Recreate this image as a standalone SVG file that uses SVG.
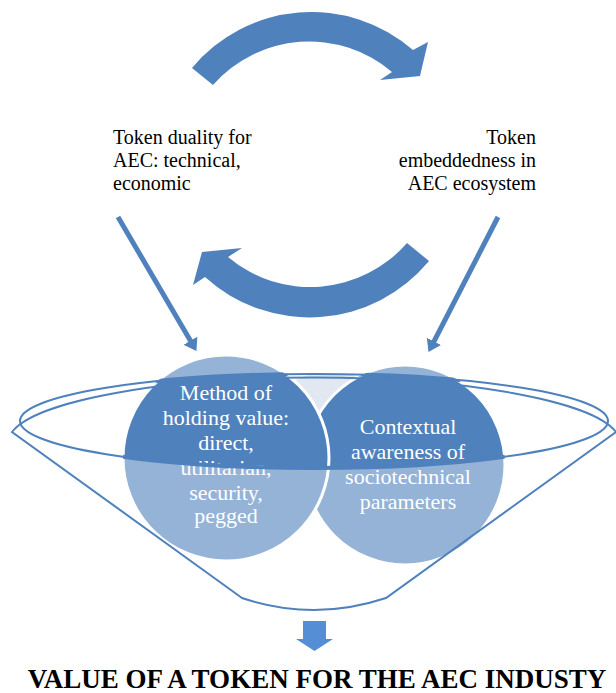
<svg xmlns="http://www.w3.org/2000/svg" width="616" height="693" viewBox="0 0 616 693">
<style>
.lbl{font-family:"Liberation Serif","Times New Roman",serif;font-size:20px;fill:#000}
.ct{font-family:"Liberation Serif","Times New Roman",serif;font-size:22px;fill:#fff;text-anchor:middle}
.title{font-family:"Liberation Serif","Times New Roman",serif;font-size:27px;font-weight:bold;fill:#000;text-anchor:middle}
.blue{fill:#4F81BD}
.ln{stroke:#4F81BD;stroke-width:2;fill:none}
.light{fill:#95B3D7}
.dark{fill:#4F81BD}
</style>
<defs>
<clipPath id="inner"><ellipse cx="314" cy="421" rx="294" ry="47"/></clipPath>
<clipPath id="circs"><circle cx="226" cy="458" r="103"/><circle cx="405" cy="465" r="100"/></clipPath>
<marker id="ah" markerUnits="userSpaceOnUse" viewBox="0 0 12 16" markerWidth="12" markerHeight="16" refX="1" refY="8" orient="auto"><path d="M0,0 L12,8 L0,16 Z" fill="#4F81BD"/></marker>
</defs>
<rect width="616" height="693" fill="#fff"/>

<g id="funnel">
<path d="M242,598 L12,432 A306,65 0 0 1 616,432 L386,598 Q314,622 242,598 Z" fill="#fff"/>
<circle cx="330" cy="450" r="78" fill="#E2E8F1" clip-path="url(#inner)"/>
</g>

<g id="circle-right">
<circle cx="405" cy="465" r="100" class="light"/>
<circle cx="405" cy="465" r="100" class="dark" clip-path="url(#inner)"/>
<circle cx="405" cy="465" r="100" fill="none" stroke="#fff" stroke-width="3"/>
<text class="ct" x="408" y="434">Contextual</text>
<text class="ct" x="408" y="459">awareness of</text>
<text class="ct" x="408" y="484">sociotechnical</text>
<text class="ct" x="408" y="509">parameters</text>
</g>

<g id="circle-left">
<circle cx="226" cy="458" r="103" class="light"/>
<circle cx="226" cy="458" r="103" class="dark" clip-path="url(#inner)"/>
<circle cx="226" cy="458" r="103" fill="none" stroke="#fff" stroke-width="3"/>
<text class="ct" x="226" y="400">Method of</text>
<text class="ct" x="226" y="425">holding value:</text>
<text class="ct" x="226" y="450">direct,</text>
<text class="ct" x="226" y="475">utilitarian,</text>
<text class="ct" x="226" y="500">security,</text>
<text class="ct" x="226" y="523">pegged</text>
</g>

<g id="funnel-outline">
<ellipse cx="314" cy="421" rx="294" ry="47" fill="none" stroke="#4F81BD" stroke-width="4" clip-path="url(#circs)"/>
<ellipse cx="314" cy="421" rx="294" ry="47" class="ln"/>
<path d="M242,598 L12,432 A306,65 0 0 1 616,432 L386,598 Q314,622 242,598 Z" class="ln"/>
</g>

<g id="label-left">
<text class="lbl" x="113" y="144">Token duality for</text>
<text class="lbl" x="113" y="167">AEC: technical,</text>
<text class="lbl" x="113" y="190">economic</text>
</g>

<g id="label-right">
<text class="lbl" x="536" y="144" text-anchor="end">Token</text>
<text class="lbl" x="536" y="167" text-anchor="end">embeddedness in</text>
<text class="lbl" x="536" y="190" text-anchor="end">AEC ecosystem</text>
</g>

<g id="connectors">
<path class="blue" d="M192,68 A155,155 0 0 1 413,50 L428,42 L420,76 L380,80 L392,72 A128,128 0 0 0 213,85 Z"/>
<path class="blue" d="M429,261 A155,155 0 0 1 205,277 L193,285 L202,252 L242,248 L228,257 A128,128 0 0 0 407,243 Z"/>
<line x1="118" y1="217" x2="190.9" y2="341.6" stroke="#4F81BD" stroke-width="5" marker-end="url(#ah)"/>
<line x1="498" y1="217" x2="433.5" y2="342.3" stroke="#4F81BD" stroke-width="5" marker-end="url(#ah)"/>
<path d="M303,621 L326,621 L326,639 L333,639 L314.5,651 L296,639 L303,639 Z" fill="#558ED5"/>
</g>

<g id="title">
<text class="title" x="317" y="688">VALUE OF A TOKEN FOR THE AEC INDUSTY</text>
</g>
</svg>
